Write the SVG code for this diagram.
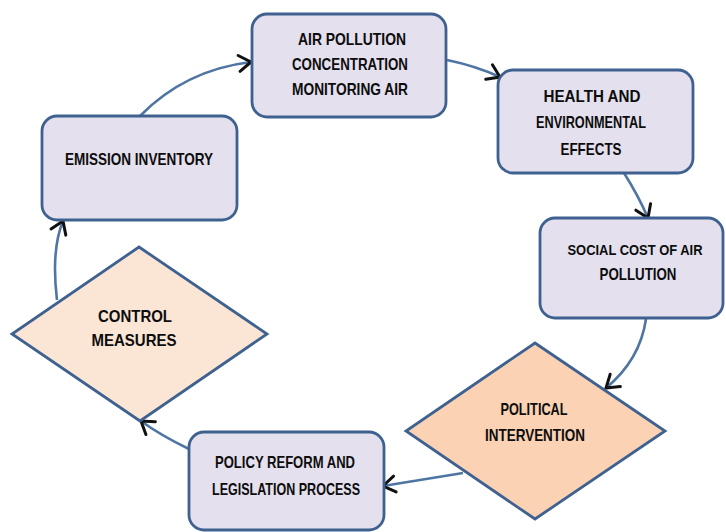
<svg xmlns="http://www.w3.org/2000/svg" width="726" height="532" viewBox="0 0 726 532">
  <style>
    .box { fill: #e4e0ee; stroke: #3f6190; stroke-width: 2.8; }
    .dia-light { fill: #fbe6d6; stroke: #3f6190; stroke-width: 2.8; stroke-linejoin: miter; }
    .dia-dark { fill: #fbd2b4; stroke: #3f6190; stroke-width: 2.8; stroke-linejoin: miter; }
    .lbl { font-family: "Liberation Sans", Arial, sans-serif; font-weight: bold; font-size: 16.5px; fill: #0d0d0d; text-anchor: middle; }
    .conn { fill: none; stroke: #4f76a3; stroke-width: 2.6; marker-end: url(#chev); }
  </style>
  <defs>
    <marker id="chev" markerUnits="userSpaceOnUse" markerWidth="22" markerHeight="22" viewBox="-15 -11 18 22" refX="0" refY="0" orient="auto">
      <path d="M-12,-8 L0,0 L-12,8" fill="none" stroke="#111" stroke-width="3" stroke-linecap="round" stroke-linejoin="miter"/>
    </marker>
  </defs>
  <rect width="726" height="532" fill="#ffffff"/>

  <g id="connectors">
    <path class="conn" d="M140,116 Q185,70 251,62"/>
    <path class="conn" d="M447,60 Q476,66 500,77"/>
    <path class="conn" d="M624,173 Q638,195 648,218"/>
    <path class="conn" d="M646,319 Q640,360 606,388"/>
    <path class="conn" d="M463,473 Q420,480 383,486"/>
    <path class="conn" d="M189,449 Q160,435 141,421"/>
    <path class="conn" d="M57,300 Q51,250 63,221"/>
  </g>

  <g id="air-pollution">
    <rect class="box" x="252" y="14" width="194" height="103" rx="15"/>
    <text class="lbl" x="352" y="45" textLength="108" lengthAdjust="spacingAndGlyphs">AIR POLLUTION</text>
    <text class="lbl" x="350" y="70" textLength="116" lengthAdjust="spacingAndGlyphs">CONCENTRATION</text>
    <text class="lbl" x="350" y="95" textLength="116" lengthAdjust="spacingAndGlyphs">MONITORING AIR</text>
  </g>

  <g id="health-effects">
    <rect class="box" x="498" y="70" width="195" height="103" rx="15"/>
    <text class="lbl" x="592" y="102" textLength="97" lengthAdjust="spacingAndGlyphs">HEALTH AND</text>
    <text class="lbl" x="591" y="128" textLength="110" lengthAdjust="spacingAndGlyphs">ENVIRONMENTAL</text>
    <text class="lbl" x="591" y="155" textLength="61" lengthAdjust="spacingAndGlyphs">EFFECTS</text>
  </g>

  <g id="social-cost">
    <rect class="box" x="540" y="218" width="183" height="100" rx="15"/>
    <text class="lbl" x="635" y="255" style="font-size:15px" textLength="135" lengthAdjust="spacingAndGlyphs">SOCIAL COST OF AIR</text>
    <text class="lbl" x="638" y="280" textLength="77" lengthAdjust="spacingAndGlyphs">POLLUTION</text>
  </g>

  <g id="political-intervention">
    <polygon class="dia-dark" points="535,343 665,431 535,519 406,431"/>
    <text class="lbl" x="534" y="415" textLength="67" lengthAdjust="spacingAndGlyphs">POLITICAL</text>
    <text class="lbl" x="535" y="441" textLength="100" lengthAdjust="spacingAndGlyphs">INTERVENTION</text>
  </g>

  <g id="policy-reform">
    <rect class="box" x="189" y="432" width="195" height="98" rx="15"/>
    <text class="lbl" x="285" y="468" textLength="140" lengthAdjust="spacingAndGlyphs">POLICY REFORM AND</text>
    <text class="lbl" x="286" y="495" textLength="148" lengthAdjust="spacingAndGlyphs">LEGISLATION PROCESS</text>
  </g>

  <g id="control-measures">
    <polygon class="dia-light" points="139,247 267,334 140,421 12,334"/>
    <text class="lbl" x="135" y="322" textLength="74" lengthAdjust="spacingAndGlyphs">CONTROL</text>
    <text class="lbl" x="134" y="346" textLength="85" lengthAdjust="spacingAndGlyphs">MEASURES</text>
  </g>

  <g id="emission-inventory">
    <rect class="box" x="42" y="116" width="195" height="104" rx="15"/>
    <text class="lbl" x="139" y="165" textLength="148" lengthAdjust="spacingAndGlyphs">EMISSION INVENTORY</text>
  </g>
</svg>
